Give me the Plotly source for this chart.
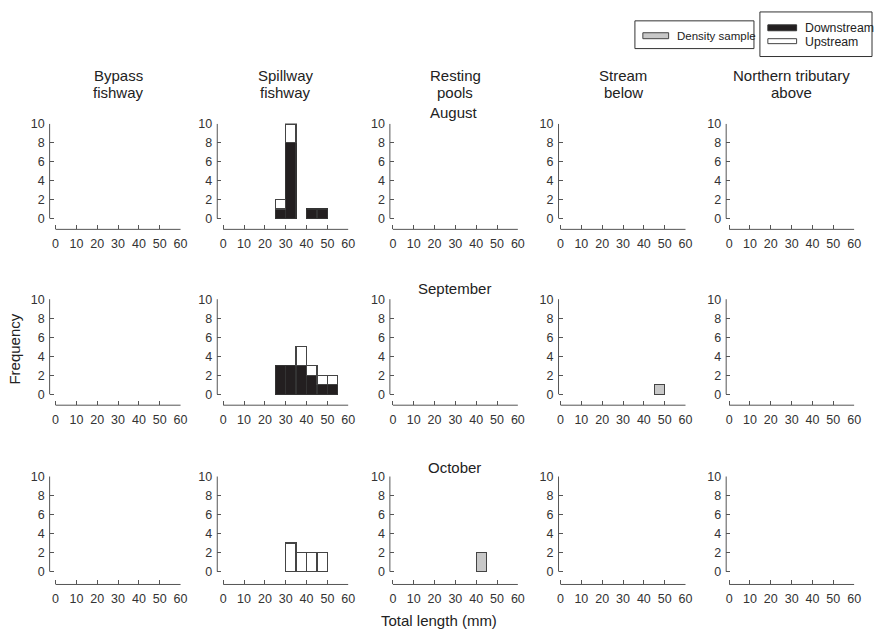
import plotly.graph_objects as go

W, H = 879, 635

# ---------------- data ----------------
sites_line1 = ["Bypass", "Spillway", "Resting", "Stream", "Northern tributary"]
sites_line2 = ["fishway", "fishway", "pools", "below", "above"]
months = ["August", "September", "October"]
x_ticks = [0, 10, 20, 30, 40, 50, 60]
y_ticks = [0, 2, 4, 6, 8, 10]
bin_width = 5

# Spillway fishway (column 1)
spill_aug_bins = [27.5, 32.5, 42.5, 47.5]
spill_aug_down = [1, 8, 1, 1]
spill_aug_up = [1, 2, 0, 0]

spill_sep_bins = [27.5, 32.5, 37.5, 42.5, 47.5, 52.5]
spill_sep_down = [3, 3, 3, 2, 1, 1]
spill_sep_up = [0, 0, 2, 1, 1, 1]

spill_oct_bins = [32.5, 37.5, 42.5, 47.5]
spill_oct_down = [0, 0, 0, 0]
spill_oct_up = [3, 2, 2, 2]

# Density samples
stream_sep_bins = [47.5]
stream_sep_density = [1]
pools_oct_bins = [42.5]
pools_oct_density = [2]

# (month row, site col) -> list of (kind, bins, values)
panels = {
    (0, 1): [("down", spill_aug_bins, spill_aug_down), ("up", spill_aug_bins, spill_aug_up)],
    (1, 1): [("down", spill_sep_bins, spill_sep_down), ("up", spill_sep_bins, spill_sep_up)],
    (2, 1): [("down", spill_oct_bins, spill_oct_down), ("up", spill_oct_bins, spill_oct_up)],
    (1, 3): [("dens", stream_sep_bins, stream_sep_density)],
    (2, 2): [("dens", pools_oct_bins, pools_oct_density)],
}

# ---------------- layout geometry (pixels) ----------------
col_x0 = [55, 224, 395, 564, 734]      # pixel of x = 0
col_gap = [6, 6, 3, 2, 3]              # y-axis line offset left of x = 0
px_per_unit_x = 126 / 60
row_y10 = [119, 296, 475]
row_y0 = [214.5, 392, 571]
row_axis = [225.5, 403, 584]

styles = {
    "down": dict(color="#231f20", line=dict(color="#333333", width=1.3)),
    "up": dict(color="#ffffff", line=dict(color="#444444", width=1.3)),
    "dens": dict(color="#c8c8c8", line=dict(color="#444444", width=1.3)),
}

fig = go.Figure()
layout = dict(
    width=W, height=H, margin=dict(l=0, r=0, t=0, b=0),
    paper_bgcolor="white", plot_bgcolor="white",
    barmode="stack", showlegend=False,
    font=dict(family="Liberation Sans, Arial, sans-serif", color="#222222"),
)
shapes = []
annotations = []

for r in range(3):
    ppu_y = (row_y0[r] - row_y10[r]) / 10
    for c in range(5):
        n = r * 5 + c + 1
        xa = "x" if n == 1 else f"x{n}"
        ya = "y" if n == 1 else f"y{n}"
        xkey = "xaxis" if n == 1 else f"xaxis{n}"
        ykey = "yaxis" if n == 1 else f"yaxis{n}"
        xmin = -col_gap[c] / px_per_unit_x
        xmax = 60.3
        ymin = -(row_axis[r] - row_y0[r]) / ppu_y
        ymax = 10.05
        left_px = col_x0[c] - col_gap[c]
        right_px = col_x0[c] + 60.3 * px_per_unit_x
        top_px = row_y10[r] - 0.05 * ppu_y
        bot_px = row_axis[r]
        layout[xkey] = dict(
            domain=[left_px / W, right_px / W], range=[xmin, xmax], anchor=ya,
            tickvals=x_ticks, ticks="inside", ticklen=4, tickwidth=1,
            tickcolor="#555555", showline=False, showgrid=False, zeroline=False,
            tickfont=dict(size=12.5, color="#333333"), ticklabelstandoff=5,
            fixedrange=True,
        )
        layout[ykey] = dict(
            domain=[1 - bot_px / H, 1 - top_px / H], range=[ymin, ymax], anchor=xa,
            tickvals=y_ticks, ticks="inside", ticklen=4, tickwidth=1,
            tickcolor="#555555", showline=False, showgrid=False, zeroline=False,
            tickfont=dict(size=12.5, color="#333333"), ticklabelstandoff=4,
            fixedrange=True,
        )
        # detached axis lines
        shapes.append(dict(type="line", xref=xa, yref=f"{ya} domain",
                           x0=0, x1=60, y0=0, y1=0,
                           line=dict(color="#555555", width=1)))
        shapes.append(dict(type="line", xref=f"{xa} domain", yref=ya,
                           x0=0, x1=0, y0=0, y1=10,
                           line=dict(color="#555555", width=1)))
        for kind, bins, vals in panels.get((r, c), []):
            xs = [b for b, v in zip(bins, vals) if v]
            vs = [v for v in vals if v]
            if not xs:
                continue
            fig.add_trace(go.Bar(x=xs, y=vs, width=bin_width, xaxis=xa, yaxis=ya,
                                 marker=styles[kind], hoverinfo="skip"))


def label(text, xpx, ypx, size=15, angle=0, xanchor="center"):
    annotations.append(dict(text=text, x=xpx / W, y=1 - ypx / H, xref="paper",
                            yref="paper", showarrow=False, textangle=angle,
                            xanchor=xanchor, yanchor="middle",
                            font=dict(size=size, color="#222222")))


# column titles
for c in range(5):
    label(sites_line1[c], col_x0[c] + 63, 70)
    label(sites_line2[c], col_x0[c] + 63, 87)
# month labels
month_y = [108, 285, 466]
for m, yy in zip(months, month_y):
    label(m, 457, yy)
# axis titles
label("Frequency", 14, 346, angle=-90)
label("Total length (mm)", 442, 620)


# legends (drawn manually)
def prect(x0, y0, x1, y1, fill, lc="#333333", lw=1):
    return dict(type="rect", xref="paper", yref="paper",
                x0=x0 / W, x1=x1 / W, y0=1 - y1 / H, y1=1 - y0 / H,
                fillcolor=fill, line=dict(color=lc, width=lw), layer="above")


shapes.append(prect(639, 15, 759, 43, "white"))
shapes.append(prect(647, 27, 673, 33, "#c8c8c8", "#444444"))
label("Density sample", 679, 30, size=11.5, xanchor="left")
shapes.append(prect(765, 6, 878, 51, "white"))
shapes.append(prect(773, 19, 802, 25, "#231f20"))
shapes.append(prect(773, 33, 802, 38, "white", "#444444"))
label("Downstream", 808, 22, size=12.3, xanchor="left")
label("Upstream", 808, 36, size=12.3, xanchor="left")

layout["shapes"] = shapes
layout["annotations"] = annotations
fig.update_layout(**layout)

post = (
    "var gd = document.getElementById('{plot_id}');"
    "gd.style.position='absolute'; gd.style.top='0px'; gd.style.left='0px';"
    "document.body.style.margin='0px';"
    "document.documentElement.style.overflow='hidden';"
    "document.body.style.overflow='hidden';"
)
fig.write_html("out.html", config={"displayModeBar": False}, post_script=post)
